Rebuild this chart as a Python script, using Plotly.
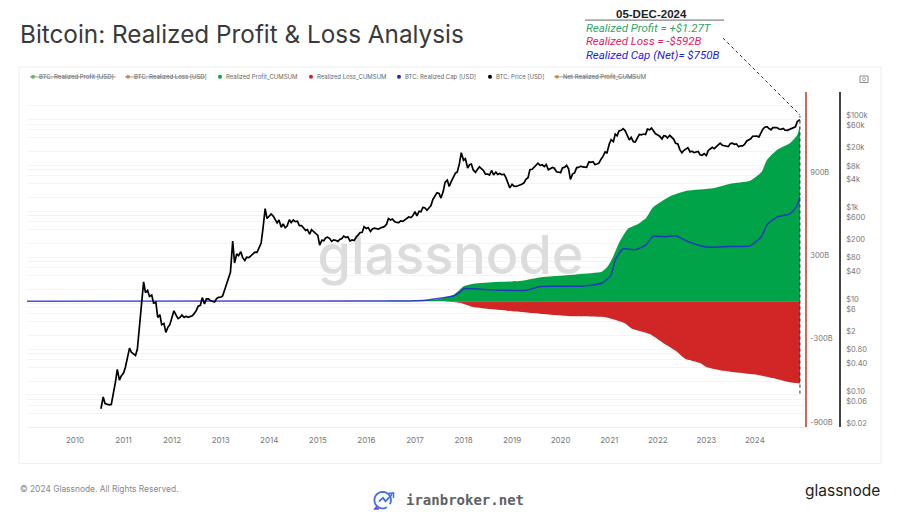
import numpy as np
import pandas as pd
import plotly.graph_objects as go

# Plot area in pixels, all overlays below are placed relative to it
W, H = 900, 519
LEFT, RIGHT, TOP, BOTTOM = 27, 840, 92, 427.5
X_END = 805

FONT = "Inter"
GREY = "#777777"

# Cumulative realized profit / loss and realized cap, in billions USD
profit_dates = ["2009-01-05", "2016-01-01", "2017-01-15", "2017-07-01", "2017-10-20", "2017-12-01",
                "2018-01-01", "2018-03-15", "2018-09-10", "2019-03-01", "2019-07-25", "2019-12-25",
                "2020-05-25", "2020-11-05", "2020-12-20", "2021-01-30", "2021-03-20", "2021-05-20",
                "2021-07-25", "2021-10-05", "2021-11-25", "2022-04-01", "2022-08-05", "2023-02-20",
                "2023-06-25", "2023-11-25", "2024-02-20", "2024-04-01", "2024-06-15", "2024-09-20",
                "2024-11-15", "2024-12-05"]
profit_values = [0, 3, 7, 16, 47, 80, 107, 125, 138, 145, 171, 183, 196, 212, 250, 322, 430, 521,
                 550, 600, 675, 754, 795, 814, 845, 867, 931, 1018, 1090, 1138, 1198, 1270]

loss_dates = ["2009-01-05", "2017-01-01", "2017-09-01", "2017-12-05", "2018-03-15", "2018-11-25",
              "2019-07-25", "2020-04-01", "2020-12-10", "2021-04-25", "2021-06-20", "2021-11-01",
              "2022-03-10", "2022-05-20", "2022-07-25", "2022-11-15", "2023-01-01", "2023-05-05",
              "2024-01-15", "2024-05-15", "2024-09-20", "2024-12-05"]
loss_values = [0, 1, 3, 11, 42, 68, 90, 109, 117, 157, 198, 236, 318, 361, 414, 445, 473, 500,
               529, 553, 584, 592]

cap_dates = ["2009-01-05", "2016-01-01", "2017-03-01", "2017-10-20", "2017-12-01", "2018-01-01",
             "2018-06-01", "2019-04-10", "2019-08-01", "2020-06-01", "2020-11-10", "2021-01-15",
             "2021-02-15", "2021-04-15", "2021-07-15", "2021-10-05", "2021-11-25", "2022-03-01",
             "2022-05-15", "2022-08-15", "2023-01-05", "2023-08-01", "2023-11-25", "2024-02-20",
             "2024-04-01", "2024-06-15", "2024-09-20", "2024-11-10", "2024-12-05"]
cap_values = [0, 2, 6, 40, 62, 90, 85, 78, 106, 108, 131, 190, 298, 378, 370, 406, 466, 465, 471,
              430, 390, 395, 399, 466, 550, 606, 629, 682, 750]

# BTC price in USD, one value per half month from 2010-07-15, last value is 2024-12-05
price_2010 = [0.05, 0.09, 0.065, 0.062, 0.061, 0.062, 0.10, 0.19, 0.36, 0.21, 0.26]
price_2011 = [0.30, 0.40, 0.75, 1.05, 0.85, 0.78, 0.72, 1.0, 3.0, 8.0, 29, 17,
              19, 14, 15, 10, 10.5, 4.9, 5.6, 3.4, 3.6, 2.3, 3.0, 3.4]
price_2012 = [5.2, 6.8, 5.4, 4.6, 4.9, 5.5, 4.9, 5.2, 4.9, 5.1, 5.3, 5.9,
              6.9, 8.6, 9.0, 13.2, 9.6, 12.4, 12.4, 11.4, 10.9, 10.6, 12.6, 13.4]
price_2013 = [13.5, 14.3, 20, 27, 34, 47, 225, 75, 118, 108, 132, 98,
              85, 100, 98, 108, 122, 130, 128, 158, 205, 430, 1150, 700]
price_2014 = [780, 880, 780, 640, 560, 650, 450, 530, 440, 480, 660, 570,
              650, 600, 610, 490, 490, 440, 385, 400, 320, 400, 365, 340]
price_2015 = [300, 185, 235, 230, 265, 275, 255, 222, 240, 235, 222, 245,
              255, 290, 270, 280, 225, 240, 232, 270, 315, 345, 350, 465]
price_2016 = [425, 445, 365, 415, 430, 420, 410, 435, 445, 465, 525, 700,
              650, 680, 600, 575, 570, 620, 605, 650, 715, 755, 730, 800]
price_2017 = [990, 800, 1010, 980, 1220, 1200, 1060, 1200, 1340, 1800, 2250, 2550,
              2450, 1950, 2700, 4300, 4800, 3500, 4500, 5600, 6800, 7200, 11000, 19000]
price_2018 = [13000, 14000, 8800, 10400, 10700, 8000, 7100, 8200, 9400, 8500, 7700, 6500,
              6500, 6200, 7800, 6200, 7200, 6400, 6700, 6300, 6450, 5500, 4100, 3250]
price_2019 = [3900, 3550, 3500, 3600, 3850, 3900, 4200, 5000, 5400, 8100, 8300, 9200,
              10500, 11200, 10000, 10400, 9500, 10500, 8100, 8500, 9100, 8700, 7300, 7200]
price_2020 = [7000, 8900, 9200, 10100, 8500, 5000, 6600, 6900, 9000, 9100, 9700, 9300,
              9300, 9100, 12000, 11700, 12100, 10500, 10800, 11300, 13900, 15800, 19800, 19000]
price_2021 = [29500, 36500, 33000, 48500, 44500, 56500, 58500, 63500, 57000, 47000, 36000, 41000,
              33000, 32500, 39500, 47500, 46500, 48500, 47500, 62000, 60000, 65500, 56000, 49000]
price_2022 = [46500, 43500, 38000, 44500, 43800, 39800, 45500, 41000, 37200, 30500, 29400, 22500,
              18900, 21200, 22900, 24500, 19700, 20500, 19100, 19600, 20200, 17200, 16700, 18100]
price_2023 = [16500, 21100, 22900, 24800, 23300, 25200, 28000, 30600, 27700, 27300, 26700, 25800,
              30200, 30600, 29000, 29500, 25700, 26900, 26700, 28800, 34200, 36000, 38300, 43400]
price_2024 = [43800, 43500, 42000, 52300, 62000, 68500, 70500, 64500, 60000, 66800, 67300, 67200,
              62500, 61300, 64200, 59200, 58600, 61000, 62800, 67300, 69800, 90500, 96000, 100000]

price_values = (price_2010 + price_2011 + price_2012 + price_2013 + price_2014 + price_2015
                + price_2016 + price_2017 + price_2018 + price_2019 + price_2020 + price_2021
                + price_2022 + price_2023 + price_2024)

# half month dates, the last one replaced by the annotated day
price_dates = []
for month in pd.date_range("2010-07-01", "2024-12-01", freq="MS"):
    price_dates.append(month.strftime("%Y-%m-01"))
    price_dates.append(month.strftime("%Y-%m-15"))
price_dates = price_dates[1:len(price_values)]
price_dates.append("2024-12-05")
price_values = price_values[:len(price_dates)]

years = ["2010", "2011", "2012", "2013", "2014", "2015", "2016", "2017", "2018", "2019", "2020",
         "2021", "2022", "2023", "2024"]

cum_ticks = [-900, -300, 300, 900]
cum_labels = ["-900B", "-300B", "300B", "900B"]

price_ticks = [400000, 200000, 100000, 80000, 60000, 40000, 20000, 10000, 8000, 6000, 4000, 2000,
               1000, 800, 600, 400, 200, 100, 80, 60, 40, 20, 10, 8, 6, 4, 2, 1,
               0.8, 0.6, 0.4, 0.2, 0.1, 0.08, 0.06, 0.04, 0.02]
price_labels = ["", "", "$100k", "", "$60k", "", "$20k", "", "$8k", "", "$4k", "",
                "$1k", "", "$600", "", "$200", "", "$80", "", "$40", "", "$10", "", "$6", "", "$2", "",
                "$0.80", "", "$0.40", "", "$0.10", "", "$0.06", "", "$0.02"]

legend_items = [("BTC: Realized Profit [USD]", "#66cc55", 33, True),
                ("BTC: Realized Loss [USD]", "#e09a45", 128, True),
                ("Realized Profit_CUMSUM", "#00a347", 220, False),
                ("Realized Loss_CUMSUM", "#d0202f", 311, False),
                ("BTC: Realized Cap [USD]", "#2a1fd8", 399, False),
                ("BTC: Price [USD]", "#000000", 490, False),
                ("Net Realized Profit_CUMSUM", "#f0a030", 557, True)]


def px(x):
    return (x - LEFT) / (RIGHT - LEFT)


def py(y):
    return (BOTTOM - y) / (BOTTOM - TOP)


def poly(points):
    return "M" + " L".join(f"{px(a):.5f},{py(b):.5f}" for a, b in points)


def label(text, x, y, size, color, anchor="left", family=FONT, **kw):
    return dict(text=text, x=px(x), y=py(y), xref="paper", yref="paper", showarrow=False,
                xanchor=anchor, yanchor="middle", borderpad=0,
                font=dict(family=family, size=size, color=color, **kw))


fig = go.Figure()

# watermark sits on the primary axis so that the areas cover it
fig.add_trace(go.Scatter(x=["2017-09-25"], y=[0.496], mode="text", text=["glassnode"],
                         textposition="middle center", yaxis="y",
                         textfont=dict(family=FONT, size=54, color="#dcdcdc", weight=500), hoverinfo="skip"))
fig.add_trace(go.Scatter(x=profit_dates, y=profit_values, yaxis="y2", mode="lines", fill="tozeroy",
                         fillcolor="#00a347", line=dict(width=0, color="#00a347", shape="spline", smoothing=0.5)))
fig.add_trace(go.Scatter(x=loss_dates, y=[-v for v in loss_values], yaxis="y2", mode="lines", fill="tozeroy",
                         fillcolor="#d02626", line=dict(width=0, color="#d02626", shape="spline", smoothing=0.5)))
fig.add_trace(go.Scatter(x=cap_dates, y=cap_values, yaxis="y2", mode="lines",
                         line=dict(width=1.5, color="rgba(40,30,215,0.8)", shape="spline", smoothing=0.5)))
fig.add_trace(go.Scatter(x=price_dates, y=price_values, yaxis="y3", mode="lines",
                         line=dict(width=1.7, color="#000000")))

shapes = [
    # card around the chart
    dict(type="rect", xref="paper", yref="paper", x0=px(19), x1=px(881), y0=py(67), y1=py(464),
         line=dict(color="#eeeeee", width=1), layer="below"),
    # callout lines
    dict(type="line", xref="x", yref="paper", x0="2024-12-05", x1="2024-12-05", y0=py(394), y1=py(116),
         line=dict(color="#222222", width=1, dash="dot")),
    dict(type="line", xref="paper", yref="paper", x0=px(723), x1=px(800), y0=py(38), y1=py(115),
         line=dict(color="#222222", width=1, dash="dot")),
    dict(type="line", xref="paper", yref="paper", x0=px(585), x1=px(724), y0=py(20), y1=py(20),
         line=dict(color="#666666", width=1)),
    # camera icon
    dict(type="rect", xref="paper", yref="paper", x0=px(860), x1=px(868), y0=py(76), y1=py(82.5),
         line=dict(color="#888888", width=1)),
    dict(type="circle", xref="paper", yref="paper", x0=px(862.5), x1=px(865.5), y0=py(77.8), y1=py(80.8),
         line=dict(color="#888888", width=0.8)),
]

annotations = [
    label("Bitcoin: Realized Profit &amp; Loss Analysis", 19, 34, 24.3, "#3a3a3a"),
    label("05-DEC-2024", 651, 14, 11.5, "#222222", "center", "Liberation Sans", weight="bold"),
    label("<i>Realized Profit = +$1.27T</i>", 585, 28, 11.5, "#2fa56d", family="Roboto"),
    label("<i>Realized Loss = -$592B</i>", 585, 41, 11.5, "#e8195f", family="Roboto"),
    label("<i>Realized Cap (Net)= $750B</i>", 585, 55, 11.5, "#2424dd", family="Roboto"),
    label("© 2024 Glassnode. All Rights Reserved.", 19, 490, 8.4, "#888888"),
    label("iranbroker.net", 405, 500.7, 14, "#5d6268", family="DejaVu Sans Mono", weight="bold"),
    label("glassnode", 881, 491, 15.5, "#222222", "right"),
]

for text, color, x, hidden in legend_items:
    annotations.append(label(text, x + 5, 76.7, 6.0, "#666666"))
    shapes.append(dict(type="circle", xref="paper", yref="paper", x0=px(x - 2), x1=px(x + 2),
                       y0=py(74.7), y1=py(78.7), fillcolor=color, line=dict(width=0)))
    if hidden:
        width = 3.0 * len(text)
        shapes.append(dict(type="line", xref="paper", yref="paper", x0=px(x - 3), x1=px(x + 5 + width),
                           y0=py(76.9), y1=py(76.9), line=dict(color="#777777", width=0.7)))

# iranbroker logo, ring with a gap and a small rising arrow
angles = np.radians(np.arange(60, 395, 15))
ring = [(382.7 + 8.3 * np.cos(a), 500.7 + 8.3 * np.sin(a)) for a in angles]
shapes.append(dict(type="path", xref="paper", yref="paper", path=poly(ring),
                   line=dict(color="#3f6fe6", width=1.8)))
shapes.append(dict(type="path", xref="paper", yref="paper",
                   path=poly([(379, 502), (383, 498.5), (385.5, 502), (392, 495)]),
                   line=dict(color="#3f6fe6", width=1.8)))
shapes.append(dict(type="path", xref="paper", yref="paper",
                   path=poly([(388.5, 494), (393.5, 493.5), (393.5, 498.5)]),
                   line=dict(color="#3f6fe6", width=1.5)))
shapes.append(dict(type="path", xref="paper", yref="paper",
                   path=poly([(377, 507), (375, 509.5), (379, 509.5)]),
                   line=dict(color="#6a4de0", width=1.8)))

fig.update_layout(
    width=W, height=H, autosize=False,
    margin=dict(l=LEFT, r=W - RIGHT, t=TOP, b=H - BOTTOM, pad=0),
    paper_bgcolor="#ffffff", plot_bgcolor="#ffffff",
    showlegend=False,
    font=dict(family=FONT, size=7.5, color=GREY),
    xaxis=dict(domain=[0, (X_END - LEFT) / (RIGHT - LEFT)], type="date",
               range=["2009-01-05", "2025-01-12"],
               tickvals=[y + "-01-01" for y in years], ticktext=years,
               showgrid=False, zeroline=False, showline=True, linecolor="#eeeeee", linewidth=1,
               ticks="", tickfont=dict(family=FONT, size=8, color=GREY), ticklabelstandoff=5),
    yaxis=dict(range=[0, 1], visible=False),
    yaxis2=dict(overlaying="y", side="right", anchor="x", range=[-906, 1507],
                tickvals=cum_ticks, ticktext=cum_labels, showgrid=False, zeroline=False,
                showline=True, linecolor="#d9625c", linewidth=1.5, ticks="",
                ticklabelshift=-4, ticklabelstandoff=2,
                tickfont=dict(family=FONT, size=7.5, color=GREY)),
    yaxis3=dict(overlaying="y", side="right", anchor="free", position=1, type="log",
                range=[np.log10(0.02), np.log10(400000)],
                tickvals=price_ticks, ticktext=price_labels, showgrid=True, gridcolor="#f3f3f3",
                gridwidth=1, zeroline=False, showline=True, linecolor="#444444", linewidth=1.5,
                ticks="", ticklabelshift=-4, ticklabelstandoff=4,
                tickfont=dict(family=FONT, size=7.5, color=GREY)),
    shapes=shapes,
    annotations=annotations,
)

# drop the browser's default page margin so the figure fills the 900x519 window
fig.write_html("out.html", config=dict(displayModeBar=False),
               post_script="document.body.style.margin='0';")
